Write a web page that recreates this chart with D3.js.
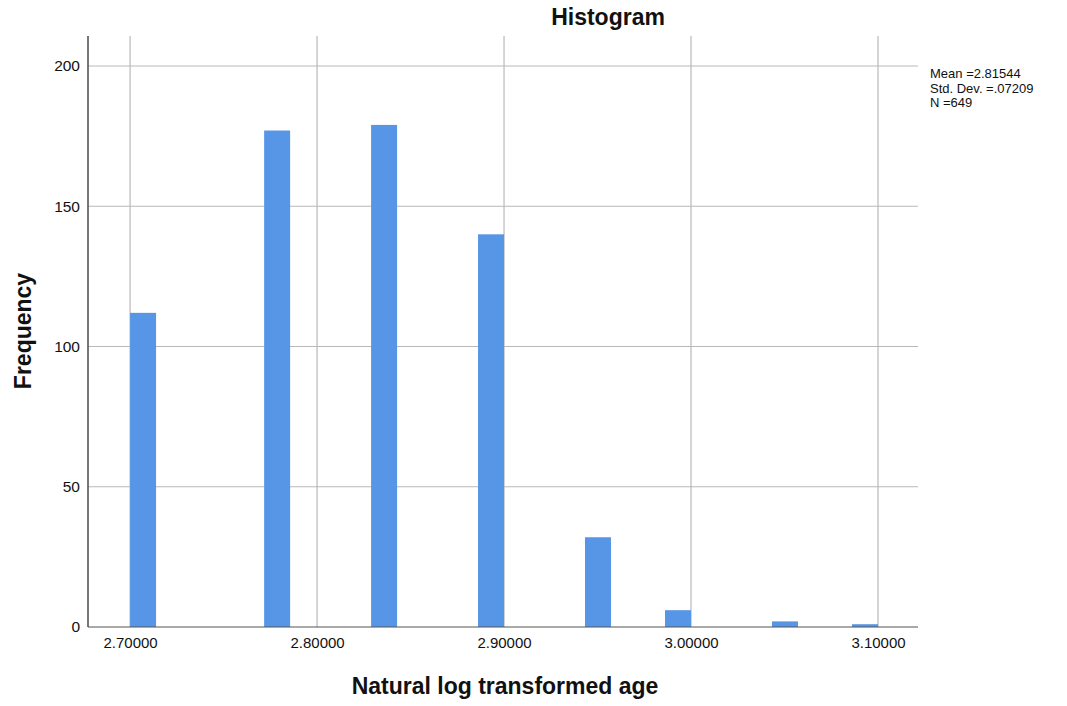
<!DOCTYPE html>
<html>
<head>
<meta charset="utf-8">
<script src="https://cdn.jsdelivr.net/npm/d3@7/dist/d3.min.js"></script>
<style>
  body { margin: 0; background: #fff; }
  svg { display: block; font-family: "Liberation Sans", Arial, sans-serif; }
</style>
</head>
<body>
<div id="chart"></div>
<script>
// Histogram bins (lower / upper edge, count)
const binStart = [2.7000, 2.7717, 2.8289, 2.8861, 2.9433, 2.9861, 3.0433, 3.0861];
const binEnd   = [2.7139, 2.7856, 2.8428, 2.9000, 2.9572, 3.0000, 3.0572, 3.1000];
const counts   = [112, 177, 179, 140, 32, 6, 2, 1];
const xTicks = [2.7, 2.8, 2.9, 3.0, 3.1];
const yTicks = [0, 50, 100, 150, 200];
const statsLines = ['Mean =2.81544', 'Std. Dev. =.07209', 'N =649'];

const width = 1067, height = 706;
const margin = { top: 36, right: 149, bottom: 79, left: 88 };
const innerW = width - margin.left - margin.right;
const innerH = height - margin.top - margin.bottom;
const fontFamily = '"Liberation Sans", Arial, sans-serif';

const svg = d3.select('#chart').append('svg')
  .attr('width', width)
  .attr('height', height);

const g = svg.append('g').attr('transform', `translate(${margin.left},${margin.top})`);

const x = d3.scaleLinear().domain([2.6775, 3.1214]).range([0, innerW]);
const y = d3.scaleLinear().domain([0, 210.7]).range([innerH, 0]);

// grid
g.append('g').selectAll('line.vgrid')
  .data(xTicks)
  .join('line')
  .attr('x1', d => x(d)).attr('x2', d => x(d))
  .attr('y1', 0).attr('y2', innerH)
  .style('stroke', '#b9b9b9').style('stroke-width', 1.2);

g.append('g').selectAll('line.hgrid')
  .data(yTicks.filter(d => d > 0))
  .join('line')
  .attr('x1', 0).attr('x2', innerW)
  .attr('y1', d => y(d)).attr('y2', d => y(d))
  .style('stroke', '#b9b9b9').style('stroke-width', 1.2);

// bars
const bins = counts.map((c, i) => ({ x0: binStart[i], x1: binEnd[i], n: c }));
g.append('g').selectAll('rect')
  .data(bins)
  .join('rect')
  .attr('x', d => x(d.x0))
  .attr('width', d => x(d.x1) - x(d.x0))
  .attr('y', d => y(d.n))
  .attr('height', d => y(0) - y(d.n))
  .style('fill', '#5796e6');

// axes
g.append('g')
  .attr('transform', `translate(0,${innerH})`)
  .call(d3.axisBottom(x).tickValues(xTicks).tickSize(0).tickPadding(10).tickFormat(d3.format('.5f')))
  .call(a => {
    a.select('.domain').attr('d', `M0,0H${innerW}`).style('stroke', '#555').style('stroke-width', 1.2);
    a.selectAll('text').style('font-size', '15px').style('fill', '#111').style('font-family', fontFamily);
  });

g.append('g')
  .call(d3.axisLeft(y).tickValues(yTicks).tickSize(0).tickPadding(8))
  .call(a => {
    a.select('.domain').attr('d', `M0,0V${innerH}`).style('stroke', '#555').style('stroke-width', 1.6);
    a.selectAll('text').style('font-size', '15.5px').style('fill', '#111').style('font-family', fontFamily);
  });

// title
svg.append('text')
  .attr('x', 608).attr('y', 25)
  .attr('text-anchor', 'middle')
  .style('font-size', '23px').style('font-weight', 'bold').style('fill', '#111')
  .text('Histogram');

// axis labels
svg.append('text')
  .attr('x', 505).attr('y', 694)
  .attr('text-anchor', 'middle')
  .style('font-size', '23px').style('font-weight', 'bold').style('fill', '#111')
  .text('Natural log transformed age');

svg.append('text')
  .attr('transform', 'translate(31,331) rotate(-90)')
  .attr('text-anchor', 'middle')
  .style('font-size', '23px').style('font-weight', 'bold').style('fill', '#111')
  .text('Frequency');

// stats box
svg.append('g').selectAll('text')
  .data(statsLines)
  .join('text')
  .attr('x', 930)
  .attr('y', (d, i) => 78 + i * 14.5)
  .style('font-size', '13px').style('fill', '#111')
  .text(d => d);
</script>
</body>
</html>
